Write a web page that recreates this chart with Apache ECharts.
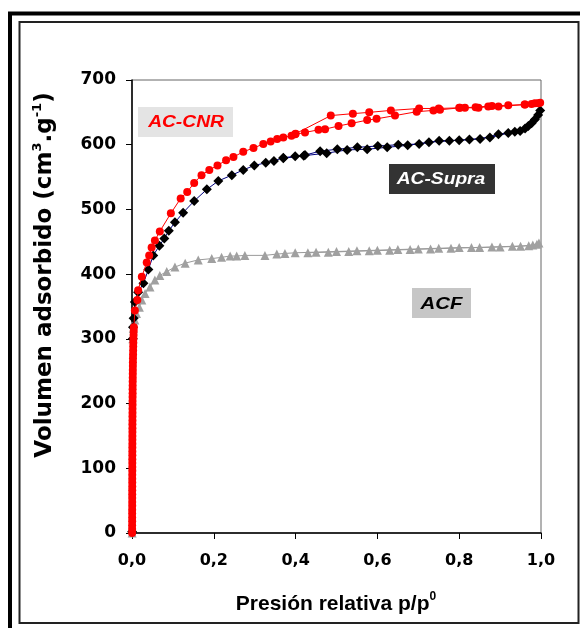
<!DOCTYPE html>
<html>
<head>
<meta charset="utf-8">
<script src="https://cdn.jsdelivr.net/npm/echarts@6/dist/echarts.min.js"></script>
<style>
html,body{margin:0;padding:0;background:#fff;}
#chart{width:580px;height:628px;}
</style>
</head>
<body>
<div id="chart"></div>
<script>
// ---- Data ----
const xTicks = [0, 0.2, 0.4, 0.6, 0.8, 1.0];
const yTicks = [0, 100, 200, 300, 400, 500, 600, 700];

// AC-CNR (adsorption followed by desorption)
const cnrP = [0.0003,0.0003,0.0003,0.0004,0.0004,0.0004,0.0004,0.0005,0.0005,0.0005,
  0.0005,0.0005,0.0006,0.0006,0.0006,0.0006,0.0007,0.0007,0.0007,0.0007,
  0.0008,0.0008,0.0008,0.0009,0.0009,0.0009,0.0010,0.0010,0.0010,0.0011,
  0.0011,0.0012,0.0012,0.0013,0.0013,0.0014,0.0015,0.0015,0.0016,0.0017,
  0.0018,0.0019,0.0020,0.0021,0.0022,0.0024,0.0026,0.0028,0.0030,0.0032,
  0.0035,0.0038,0.0042,0.0046,
  0.007,0.013,0.015,0.024,0.036,0.042,0.048,0.056,0.068,0.095,0.119,0.135,0.152,0.170,0.189,0.209,0.230,0.248,0.272,0.297,0.321,0.339,0.355,0.370,0.390,0.399,0.423,0.456,0.472,0.505,0.537,0.575,0.598,0.643,0.696,0.737,0.753,0.802,0.814,0.847,0.871,0.896,0.961,0.977,0.993,
  0.998,0.985,0.960,0.920,0.880,0.840,0.800,0.750,0.702,0.633,0.580,0.540,0.486,0.400];
const cnrV = [0,6,12,18,24,30,36,42,48,54,
  60,66,72,78,84,90,96,102,108,114,
  120,126,132,138,144,150,156,162,168,174,
  180,186,192,198,204,210,216,222,228,234,
  240,246,252,258,264,270,276,282,288,294,
  300,306,312,318,
  344,360,375,396,418,429,441,452,466,494,517,527,541,553,561,568,576,581,589,595,601,605,609,611,614,616,619,623,624,629,633,638,640,645,651,653,654,657,657,657,659,659,662,663,664,
  665,664,662,661,660,658,657,656,656,653,650,648,645,617];

// AC-Supra (low-pressure column hidden behind AC-CNR)
const supraP = [0.0003,0.0020,
  0.0025,0.004,0.007,0.015,0.028,0.040,0.052,0.067,0.079,0.090,0.105,0.125,0.152,0.183,0.211,0.244,0.272,0.299,0.327,0.347,0.370,0.399,0.423,0.460,0.502,0.551,0.601,0.651,0.702,0.751,0.800,0.851,0.896,0.936,0.961,0.977,0.993,0.998,
  0.985,0.969,0.949,0.920,0.875,0.825,0.776,0.726,0.674,0.624,0.575,0.526,0.476,0.420,0.370];
const supraV = [2,300,
  318,332,357,372,386,407,429,444,455,467,480,495,513,531,544,553,561,568,572,575,580,582,584,590,593,596,598,600,601,606,607,609,616,620,625,633,646,653,
  639,629,621,618,611,608,606,604,599,596,593,592,587,583,579];

// ACF
const acfP = [0.0003,0.0020,
  0.003,0.007,0.011,0.018,0.024,0.032,0.044,0.056,0.068,0.085,0.105,0.130,0.162,0.195,0.219,0.240,0.256,0.276,0.325,0.354,0.374,0.399,0.450,0.500,0.550,0.600,0.650,0.700,0.750,0.800,0.850,0.900,0.950,0.980,0.995,
  0.990,0.970,0.930,0.880,0.830,0.780,0.730,0.680,0.630,0.580,0.530,0.480,0.430];
const acfV = [0,300,
  316,329,339,349,360,370,380,391,398,404,411,417,422,424,426,428,428,429,429,431,432,433,434,435,436,437,438,439,440,441,441,442,443,445,448,
  446,444,443,442,441,440,439,438,437,436,435,434,433];

const seriesNames = ['ACF', 'AC-Supra', 'AC-CNR'];

// ---- Build ----
function pairs(xs, ys) { return xs.map((x, i) => [x, ys[i]]); }

const chart = echarts.init(document.getElementById('chart'), null, {renderer: 'canvas'});
const tickFont = {fontFamily: '"DejaVu Sans"', fontWeight: 'bold', color: '#000'};

const option = {
  animation: false,
  backgroundColor: '#fff',
  grid: {left: 132, right: 39, top: 80, bottom: 95, show: true, borderColor: '#666', borderWidth: 1, backgroundColor: 'transparent'},
  xAxis: {
    type: 'value', min: xTicks[0], max: xTicks[xTicks.length - 1], interval: 0.2, z: 0,
    axisLine: {show: true, lineStyle: {color: '#000', width: 1.5}},
    axisTick: {show: true, length: 6, lineStyle: {color: '#000', width: 1}},
    splitLine: {show: false},
    axisLabel: Object.assign({margin: 20, fontSize: 16, formatter: v => v.toFixed(1).replace('.', ',')}, tickFont)
  },
  yAxis: {
    type: 'value', min: yTicks[0], max: yTicks[yTicks.length - 1], interval: 100, z: 0,
    axisLine: {show: true, lineStyle: {color: '#000', width: 1.5}},
    axisTick: {show: true, length: 6, lineStyle: {color: '#000', width: 1}},
    splitLine: {show: false},
    axisLabel: Object.assign({margin: 16, fontSize: 17}, tickFont)
  },
  series: [
    {
      name: seriesNames[0], type: 'line', data: pairs(acfP, acfV), clip: false,
      symbol: 'triangle', symbolSize: 9,
      itemStyle: {color: '#a0a0a0'}, lineStyle: {color: '#9a9a9a', width: 1}, z: 2
    },
    {
      name: seriesNames[1], type: 'line', data: pairs(supraP, supraV), clip: false,
      symbol: 'diamond', symbolSize: 10,
      itemStyle: {color: '#000'}, lineStyle: {color: '#000080', width: 1}, z: 3
    },
    {
      name: seriesNames[2], type: 'line', data: pairs(cnrP, cnrV), clip: false,
      symbol: 'circle', symbolSize: 8,
      itemStyle: {color: '#ff0000'}, lineStyle: {color: '#ff0000', width: 1}, z: 4
    }
  ],
  graphic: [
    // outer thick frame and inner thin frame
    {type: 'rect', silent: true, shape: {x: 10, y: 13.5, width: 620, height: 660}, style: {fill: null, stroke: '#000', lineWidth: 4}},
    {type: 'rect', silent: true, shape: {x: 19.5, y: 22, width: 559, height: 601}, style: {fill: null, stroke: '#222', lineWidth: 2}},
    // series labels
    {type: 'rect', silent: true, shape: {x: 138, y: 107, width: 95, height: 30}, style: {fill: '#e4e4e4'}},
    {type: 'text', silent: true, x: 186, y: 123, scaleX: 1.2,
      style: {text: seriesNames[2], fill: '#ff0000', font: 'italic bold 16px "Liberation Sans"', align: 'center', verticalAlign: 'middle'}},
    {type: 'rect', silent: true, shape: {x: 389, y: 164, width: 106, height: 30}, style: {fill: '#333333'}},
    {type: 'text', silent: true, x: 441, y: 180, scaleX: 1.2,
      style: {text: seriesNames[1], fill: '#ffffff', font: 'italic bold 16px "Liberation Sans"', align: 'center', verticalAlign: 'middle'}},
    {type: 'rect', silent: true, shape: {x: 412, y: 288, width: 59, height: 30}, style: {fill: '#c6c6c6'}},
    {type: 'text', silent: true, x: 441.5, y: 304, scaleX: 1.2,
      style: {text: seriesNames[0], fill: '#000000', font: 'italic bold 17px "Liberation Sans"', align: 'center', verticalAlign: 'middle'}},
    // axis titles
    {type: 'text', silent: true, x: 336, y: 604,
      style: {
        text: '{a|Presión relativa p/p}{s|0}',
        align: 'center', verticalAlign: 'middle',
        rich: {
          a: {fontFamily: '"Liberation Sans"', fontWeight: 'bold', fontSize: 21, lineHeight: 26, fill: '#000'},
          s: {fontFamily: '"Liberation Sans"', fontWeight: 'bold', fontSize: 12, verticalAlign: 'top', fill: '#000'}
        }
      }},
    {type: 'text', silent: true, x: 45, y: 275, rotation: Math.PI / 2,
      style: {
        text: '{a|Volumen adsorbido (cm}{s|3}{a|.g}{s|-1}{a|)}',
        align: 'center', verticalAlign: 'middle',
        rich: {
          a: {fontFamily: '"DejaVu Sans"', fontWeight: 'bold', fontSize: 23, lineHeight: 28, fill: '#000'},
          s: {fontFamily: '"DejaVu Sans"', fontWeight: 'bold', fontSize: 13, verticalAlign: 'top', fill: '#000'}
        }
      }}
  ]
};
chart.setOption(option);
</script>
</body>
</html>
